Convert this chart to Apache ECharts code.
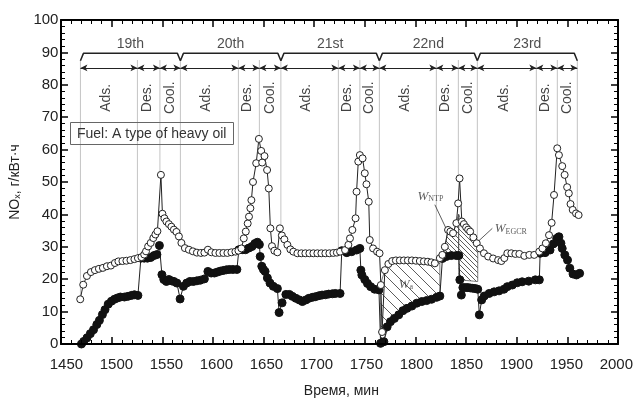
<!DOCTYPE html>
<html>
<head>
<meta charset="utf-8">
<script src="https://cdn.jsdelivr.net/npm/echarts@6/dist/echarts.min.js"></script>
<style>
html, body { margin: 0; padding: 0; background: #fff; }
.layer { position: absolute; left: 0; top: 0; width: 636px; height: 403px; }
#frame { pointer-events: none; z-index: 2; }
#chart { z-index: 1; }
</style>
</head>
<body>
<div id="chart" class="layer"></div>
<div id="frame" class="layer"></div>
<script>
// open circles (upper curve)
const openTime = [1463.8, 1466.8, 1470.5, 1474.5, 1478.5, 1482.5, 1486.5, 1490.5, 1494.5, 1498.5, 1502, 1506, 1510, 1514, 1518, 1521.5, 1525, 1527.8, 1529.6, 1531.7, 1534.3, 1536.9, 1539, 1541, 1544.5, 1546, 1548, 1550, 1552.5, 1555, 1557.5, 1560, 1562.5, 1565, 1568.5, 1572.5, 1576.5, 1580.5, 1584.5, 1588, 1591.5, 1595, 1599, 1603, 1607, 1611, 1615, 1619, 1622, 1625, 1627.4, 1629.4, 1631.3, 1632.6, 1634, 1635, 1636.6, 1639.8, 1642.5, 1644.8, 1645.8, 1648.1, 1650.7, 1652.4, 1654, 1655.6, 1658, 1661, 1663.5, 1665.5, 1668, 1671, 1674, 1677, 1681, 1685, 1689, 1693, 1697, 1701, 1705, 1709, 1713, 1717, 1720.5, 1723.7, 1728.7, 1732, 1733.6, 1736, 1739.2, 1740.2, 1741.9, 1743.5, 1746.2, 1748.4, 1750.1, 1752.4, 1753.4, 1756.7, 1760.7, 1763.2, 1764.5, 1765.7, 1768.5, 1772, 1775.8, 1779.5, 1783.5, 1787.5, 1791.5, 1795.5, 1799.5, 1803.5, 1807.5, 1811.5, 1815, 1818.5, 1823.5, 1826, 1828.5, 1831.7, 1834, 1836.7, 1840, 1841.8, 1843.2, 1845.5, 1847.5, 1849.8, 1851.8, 1853.8, 1857, 1860.4, 1863.6, 1867.6, 1871.8, 1876.8, 1881.8, 1885, 1888, 1891, 1895, 1899, 1903, 1908, 1913, 1917.9, 1922.9, 1926.1, 1929.5, 1932.7, 1935.3, 1937.7, 1940.9, 1942.6, 1945.9, 1948.3, 1950.8, 1952.5, 1954.2, 1956.4, 1959.7, 1962.3];
const openNOx = [13.8, 18.3, 21, 22.2, 22.8, 23.2, 23.5, 24, 24.2, 25, 25.5, 25.6, 25.7, 25.9, 26.2, 26.5, 26.8, 27.6, 28.6, 30.1, 31.2, 32.7, 33.8, 34.8, 52.2, 40.2, 38.8, 37.8, 37, 36.2, 35.3, 34.6, 33.2, 31.2, 29.6, 29.1, 28.6, 28.2, 28.1, 28.2, 29.1, 28.3, 28.1, 28.1, 28.1, 28.1, 28.3, 28.5, 28.8, 29.5, 32.6, 34.7, 37.2, 39.3, 41.9, 44.4, 50, 55.8, 63.3, 59.6, 56, 58, 53.7, 48, 35.7, 30.2, 28.8, 28.3, 35.7, 33.5, 32.3, 30.6, 29.2, 28.5, 28, 28, 28, 28, 28, 28, 28, 28, 28, 28.1, 28.2, 28.5, 29, 30.6, 32.6, 35.2, 38.8, 47, 56.3, 58.3, 57.3, 52.7, 49.3, 43.9, 32.1, 29.5, 28.5, 28, 18.2, 3.7, 22.8, 24.7, 25.6, 25.8, 25.8, 25.8, 25.8, 25.8, 25.7, 25.6, 25.5, 25.4, 25.2, 24.9, 26.5, 27.5, 30, 35.2, 34.7, 34.2, 37.3, 43.4, 51.1, 37.8, 37, 36, 35.3, 34.7, 32.9, 31.1, 29.5, 28, 27, 26.4, 25.9, 25.6, 26.5, 28, 28, 27.8, 27.8, 27.2, 27.5, 27.5, 28.5, 29.5, 31.1, 33.6, 37.4, 46, 60.4, 58.3, 54.9, 52.2, 48.4, 46.5, 43.2, 41.4, 40.3, 39.8];

// filled circles (lower curve)
const filledTime = [1465, 1467.3, 1470.6, 1473.9, 1477.1, 1480.4, 1483, 1486, 1488.6, 1491.8, 1495, 1498, 1501, 1504, 1508, 1511.5, 1515, 1518, 1521.5, 1524.5, 1527.8, 1531, 1534.3, 1537.6, 1540.5, 1543, 1545.5, 1547.4, 1550, 1552.5, 1555, 1557.5, 1560.5, 1563.7, 1567, 1570.3, 1573.5, 1577, 1580.5, 1584, 1588, 1591.5, 1594.8, 1598, 1601, 1604, 1607, 1610, 1613, 1616.5, 1620.5, 1622.5, 1625.8, 1629.1, 1632.4, 1635.6, 1638.5, 1641, 1643, 1643.8, 1645.4, 1647, 1648.7, 1651, 1653.6, 1656.9, 1661, 1662.7, 1665.7, 1669.5, 1673, 1676, 1679.5, 1683, 1686, 1689.5, 1692.5, 1696, 1699, 1702.5, 1705.7, 1709, 1712.3, 1716, 1719, 1723.7, 1725.4, 1730.4, 1735.3, 1740.2, 1743.5, 1744.5, 1745.5, 1748.4, 1751.1, 1754.3, 1758.3, 1762.6, 1764.2, 1767.5, 1770.8, 1774.1, 1778, 1782.4, 1786.6, 1790.6, 1795.5, 1800.4, 1805.4, 1810.3, 1815.2, 1820.2, 1823.5, 1826.1, 1830, 1835, 1840, 1842.5, 1843.5, 1845, 1846.5, 1849, 1851.5, 1854, 1856.4, 1859, 1861.4, 1863, 1865.3, 1867.9, 1872.8, 1877.8, 1882.7, 1887.6, 1891, 1896, 1900.9, 1905.8, 1912.4, 1919, 1923, 1923.8, 1928.8, 1933.7, 1937, 1940.4, 1942.6, 1944.6, 1945.9, 1948.5, 1951.2, 1953.5, 1956.7, 1960.1, 1963.3];
const filledNOx = [0, 0.8, 1.9, 3.2, 4.4, 6, 7.3, 9.1, 10.6, 12.3, 13.2, 13.8, 14.2, 14.5, 14.5, 14.7, 15, 15.2, 15, 26.5, 26.5, 26.5, 26.7, 27.3, 27.6, 30.4, 21.4, 19.9, 19.3, 19.9, 19.5, 19.3, 18.8, 13.9, 17.8, 18.8, 19.3, 19.3, 19.5, 19.7, 20.1, 22.4, 21.9, 21.9, 22.2, 22.5, 22.7, 22.9, 23, 23, 23, 29.1, 29.1, 29.1, 29.6, 30.1, 31, 31.4, 30.7, 27, 24, 23, 22.4, 20.4, 18.8, 17.8, 17.1, 9.7, 12.7, 15.3, 15.3, 14.7, 14.1, 13.6, 13.1, 13.6, 14.1, 14.4, 14.6, 14.9, 15.1, 15.2, 15.4, 15.5, 15.6, 15.6, 28.8, 28.2, 28.5, 29, 29.5, 22.8, 21.3, 19.9, 18.7, 17.7, 16.9, 16.7, 0.2, 0.7, 5.3, 6.9, 7.9, 9, 10.3, 11, 11.7, 12.6, 13.1, 13.4, 13.8, 14.4, 14.8, 26.4, 27, 27.3, 27.3, 27.3, 19.8, 15.1, 17.4, 17.4, 17.4, 17.3, 17.2, 17.1, 16.9, 9, 13.6, 14.8, 15.6, 16.1, 16.4, 16.9, 17.7, 18.2, 18.9, 19.2, 19.4, 19.8, 19.8, 28, 28.2, 29, 30.9, 32.6, 33.1, 31.1, 29.5, 27.5, 25.9, 23.4, 21.6, 21.3, 21.8];

// phase boundaries (Ads / Des / Cool for cycles 19..23)
const phaseBounds = [1464, 1521, 1543.5, 1564, 1622, 1643, 1664.5, 1722, 1743.5, 1763, 1820, 1842, 1861, 1920, 1941, 1961];
const phaseLineLow = [14, 26.5, 52, 33, 29.6, 63, 36, 28.3, 58, 29.5, 25.5, 51, 31, 29, 60, 40];
const phaseNames = ['Ads.', 'Des.', 'Cool.'];
const cycleNames = ['19th', '20th', '21st', '22nd', '23rd'];

// hatched areas
const wATime = [1764.2, 1768.5, 1772, 1776, 1781, 1786, 1791, 1796, 1801, 1806, 1811, 1816, 1820, 1823.5];
const wATop = [18.5, 22.8, 24.7, 25.6, 25.8, 25.8, 25.8, 25.8, 25.6, 25.6, 25.5, 25.2, 25, 26.5];
const wABot = [0.2, 2, 5.3, 7.3, 8.6, 10, 10.9, 11.7, 12.6, 13.1, 13.4, 13.8, 14.4, 14.8];
const wNtpTime = [1828.5, 1831.7, 1834, 1836.7, 1840, 1842.3];
const wNtpTop = [30, 35.2, 34.7, 34.2, 37.3, 40];
const wNtpBot = [27, 27.2, 27.3, 27.3, 27.3, 27.3];
const wEgcrTime = [1842.3, 1845.5, 1847.5, 1849.8, 1853.8, 1857, 1860.4, 1861.4];
const wEgcrTop = [40, 37.8, 37, 36, 34.7, 32.9, 31.1, 30.6];
const wEgcrBot = [20, 19.8, 19.7, 19.6, 19.5, 19.4, 19.3, 19.3];

const FONT = '"Liberation Sans", Arial, sans-serif';
const SERIF = '"Liberation Serif", "DejaVu Serif", serif';
const HIDDEN = 'rgba(0,0,0,0)';
const GRID = { left: 61, right: 18, top: 20, bottom: 59 };

function zip(a, b) { return a.map((v, i) => [v, b[i]]); }

// hatch lines "\" clipped to polygon, in pixel space
function hatchLines(pts, step) {
  const vals = pts.map(p => p[0] - p[1]);
  const lo = Math.min.apply(null, vals), hi = Math.max.apply(null, vals);
  const out = [];
  for (let c = Math.ceil(lo / step) * step; c <= hi; c += step) {
    const hits = [];
    for (let i = 0; i < pts.length; i++) {
      const p = pts[i], q = pts[(i + 1) % pts.length];
      const f1 = p[0] - p[1] - c, f2 = q[0] - q[1] - c;
      if ((f1 < 0) !== (f2 < 0)) {
        const t = f1 / (f1 - f2);
        hits.push([p[0] + t * (q[0] - p[0]), p[1] + t * (q[1] - p[1])]);
      }
    }
    hits.sort((a, b) => a[0] - b[0]);
    for (let k = 0; k + 1 < hits.length; k += 2) {
      out.push({
        type: 'line', silent: true,
        shape: { x1: hits[k][0], y1: hits[k][1], x2: hits[k + 1][0], y2: hits[k + 1][1] },
        style: { stroke: '#333', lineWidth: 0.8 }
      });
    }
  }
  return out;
}

function bandSeries(time, top, bot, step) {
  const data = time.map((t, i) => [t, top[i], bot[i]]);
  return {
    type: 'custom',
    silent: true,
    z: 2,
    data: data,
    encode: { x: 0, y: [1, 2] },
    renderItem: function (params, api) {
      if (params.dataIndex !== 0) return null;
      const up = data.map(d => api.coord([d[0], d[1]]));
      const lo = data.map(d => api.coord([d[0], d[2]])).reverse();
      const pts = up.concat(lo);
      return {
        type: 'group',
        children: hatchLines(pts, step).concat([{
          type: 'polygon', silent: true,
          shape: { points: pts },
          style: { fill: null, stroke: '#444', lineWidth: 0.7 }
        }])
      };
    }
  };
}

// dotted phase lines, broken with '-'
const dotted = [];
phaseBounds.forEach((b, i) => {
  dotted.push([b, 87.5], [b, phaseLineLow[i]], [b, '-']);
});

// arrows between boundaries
const arrows = [];
for (let i = 0; i < phaseBounds.length - 1; i++) {
  arrows.push([{ coord: [phaseBounds[i], 85.2] }, { coord: [phaseBounds[i + 1], 85.2] }]);
}

// braces over cycles
const braces = [];
const cycleLabels = [];
const phaseLabels = [];
for (let c = 0; c < 5; c++) {
  const x0 = phaseBounds[3 * c], x1 = phaseBounds[3 * c + 3];
  braces.push([x0, 87.4], [x0 + 3, 89.7], [x1 - 3, 89.7], [x1, 87.4], [x1, '-']);
  cycleLabels.push({ value: [(x0 + x1) / 2, 92.4], name: cycleNames[c] });
  for (let p = 0; p < 3; p++) {
    const a = phaseBounds[3 * c + p], b = phaseBounds[3 * c + p + 1];
    phaseLabels.push({ value: [(a + b) / 2 - (p === 1 ? 2 : p === 0 ? 3 : 0), 76], name: phaseNames[p] });
  }
}

// data layer: labels, names and all marks
const chart = echarts.init(document.getElementById('chart'));
chart.setOption({
  animation: false,
  backgroundColor: '#fff',
  textStyle: { fontFamily: FONT },
  grid: GRID,
  title: {
    text: 'Fuel: A type of heavy oil',
    left: 70, top: 122,
    borderColor: '#666', borderWidth: 1,
    padding: [5, 7, 4, 7],
    textStyle: { fontFamily: FONT, fontSize: 14, fontWeight: 'normal', color: '#333' }
  },
  xAxis: {
    type: 'value',
    min: 1450, max: 2000, interval: 50,
    axisLine: { show: false },
    axisTick: { show: false },
    splitLine: { show: false },
    axisLabel: { fontSize: 15, color: '#222', margin: 13, fontFamily: FONT, formatter: v => String(v) },
    name: 'Время, мин', nameLocation: 'middle', nameGap: 40,
    nameTextStyle: { fontSize: 14, color: '#222', fontFamily: FONT }
  },
  yAxis: {
    type: 'value',
    min: 0, max: 100, interval: 10,
    axisLine: { show: false },
    axisTick: { show: false },
    splitLine: { show: false },
    axisLabel: { fontSize: 15, color: '#222', margin: 8, fontFamily: FONT, formatter: v => String(v) },
    name: 'NO{s|x}, г/кВт·ч', nameLocation: 'middle', nameGap: 37, nameRotate: 90,
    nameTextStyle: {
      fontSize: 14, color: '#222', fontFamily: FONT,
      rich: { s: { fontSize: 9, verticalAlign: 'bottom', padding: [6, 0, 0, 0], fontFamily: FONT, color: '#222' } }
    }
  },
  series: [
    {
      name: 'phase lines',
      type: 'line',
      data: dotted,
      symbol: 'none',
      silent: true,
      z: 1,
      lineStyle: { color: '#888', width: 1, type: 'dotted' },
      markLine: {
        silent: true,
        symbol: ['arrow', 'arrow'],
        symbolSize: [5, 7],
        label: { show: false },
        lineStyle: { color: '#222', width: 1, type: 'solid' },
        data: arrows
      }
    },
    {
      name: 'braces',
      type: 'line',
      data: braces,
      symbol: 'none',
      silent: true,
      z: 1,
      lineStyle: { color: '#222', width: 1.5 }
    },
    {
      name: 'cycles',
      type: 'scatter',
      data: cycleLabels,
      symbolSize: 1,
      itemStyle: { color: HIDDEN },
      silent: true,
      label: { show: true, position: 'inside', formatter: '{b}', fontSize: 14, color: '#222', fontFamily: FONT }
    },
    {
      name: 'phases',
      type: 'scatter',
      data: phaseLabels,
      symbolSize: 1,
      itemStyle: { color: HIDDEN },
      silent: true,
      label: { show: true, position: 'inside', rotate: 90, formatter: '{b}', fontSize: 14, color: '#111', fontFamily: FONT }
    },
    bandSeries(wATime, wATop, wABot, 11),
    bandSeries(wNtpTime, wNtpTop, wNtpBot, 5),
    bandSeries(wEgcrTime, wEgcrTop, wEgcrBot, 5),
    {
      name: 'leaders',
      type: 'line',
      data: [[1818.5, 43], [1831.5, 34.5], [1831.5, '-'], [1876, 35.7], [1859.5, 31]],
      symbol: 'none',
      silent: true,
      z: 3,
      lineStyle: { color: '#333', width: 0.8 }
    },
    {
      name: 'W labels',
      type: 'scatter',
      silent: true,
      symbolSize: 1,
      itemStyle: { color: HIDDEN },
      z: 6,
      data: [
        { value: [1814, 45.6], name: '{w|W}{s|NTP}' },
        { value: [1894.5, 35.5], name: '{w|W}{s|EGCR}' },
        { value: [1789.5, 18.3], name: '{w|W}{s|a}' }
      ],
      label: {
        show: true, position: 'inside', formatter: '{b}',
        rich: {
          w: { fontFamily: SERIF, fontStyle: 'italic', fontSize: 13, color: '#333' },
          s: { fontFamily: SERIF, fontSize: 8, color: '#333', verticalAlign: 'bottom', padding: [5, 0, 0, 0] }
        }
      }
    },
    {
      name: 'filled',
      type: 'line',
      data: zip(filledTime, filledNOx),
      symbol: 'circle',
      symbolSize: 8,
      z: 4,
      itemStyle: { color: '#111', borderColor: '#111', borderWidth: 1 },
      lineStyle: { color: '#222', width: 1 }
    },
    {
      name: 'open',
      type: 'line',
      data: zip(openTime, openNOx),
      symbol: 'circle',
      symbolSize: 7,
      z: 5,
      itemStyle: { color: '#fff', borderColor: '#222', borderWidth: 1 },
      lineStyle: { color: '#222', width: 1 }
    }
  ]
});

// frame layer on top: plain axes with inward ticks on all four sides
function frameAxis(extra) {
  return Object.assign({
    type: 'value',
    axisLine: { show: true, onZero: false, lineStyle: { color: '#000', width: 2 } },
    axisTick: { show: true, inside: true, length: 7, lineStyle: { color: '#000', width: 1.5 } },
    minorTick: { show: true, splitNumber: 5, length: 4, lineStyle: { color: '#000', width: 1 } },
    axisLabel: { show: false },
    splitLine: { show: false }
  }, extra);
}
const frame = echarts.init(document.getElementById('frame'));
frame.setOption({
  animation: false,
  backgroundColor: 'rgba(0,0,0,0)',
  grid: GRID,
  xAxis: [
    frameAxis({ min: 1450, max: 2000, interval: 50 }),
    frameAxis({ position: 'top', min: 1450, max: 2000, interval: 50 })
  ],
  yAxis: [
    frameAxis({ min: 0, max: 100, interval: 10 }),
    frameAxis({ position: 'right', min: 0, max: 100, interval: 10 })
  ],
  series: [{ type: 'line', data: [], silent: true }]
});
</script>
</body>
</html>
